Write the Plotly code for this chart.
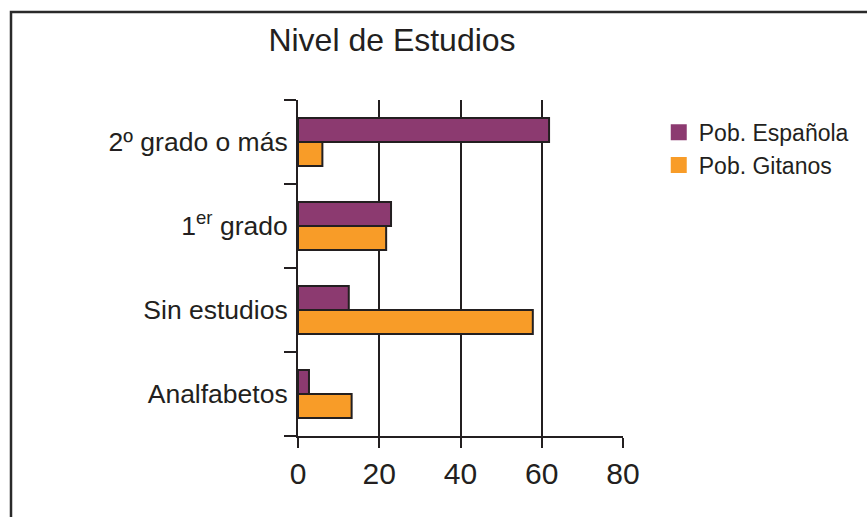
import plotly.graph_objects as go

categories = ["Analfabetos", "Sin estudios", "1er grado", "2º grado o más"]
category_labels = ["Analfabetos", "Sin estudios", "1<sup>er</sup> grado", "2º grado o más"]
pob_espanola = [2.7, 12.5, 22.9, 61.8]
pob_gitanos = [13.2, 57.8, 21.7, 6.0]
x_ticks = [0, 20, 40, 60, 80]

INK = "#231f20"
PURPLE = "#8c3a70"
ORANGE = "#f89c28"
FONT = "Liberation Sans, Arial, sans-serif"

fig = go.Figure()
fig.add_trace(go.Bar(
    name="Pob. Gitanos", y=categories, x=pob_gitanos, orientation="h",
    marker=dict(color=ORANGE, line=dict(color=INK, width=2)), showlegend=False,
))
fig.add_trace(go.Bar(
    name="Pob. Española", y=categories, x=pob_espanola, orientation="h",
    marker=dict(color=PURPLE, line=dict(color=INK, width=2)), showlegend=False,
))
# legend swatches (plain squares, no outline)
fig.add_trace(go.Scatter(name="Pob. Gitanos", x=[None], y=[None], mode="markers",
                         marker=dict(symbol="square", size=18, color=ORANGE, line=dict(width=0))))
fig.add_trace(go.Scatter(name="Pob. Española", x=[None], y=[None], mode="markers",
                         marker=dict(symbol="square", size=18, color=PURPLE, line=dict(width=0))))

fig.update_layout(
    width=867, height=517,
    margin=dict(l=298, r=244, t=100, b=81),
    paper_bgcolor="white", plot_bgcolor="white",
    barmode="group", bargap=0.43, bargroupgap=0,
    font=dict(family=FONT, color=INK),
    title=dict(text="Nivel de Estudios", x=392/867, xanchor="center",
               y=1-40/517, yanchor="middle", yref="container",
               font=dict(size=32, color=INK, family=FONT)),
    legend=dict(x=1.11, y=0.968, xanchor="left", yanchor="top",
                traceorder="reversed", font=dict(size=23, color=INK),
                itemwidth=30, bgcolor="rgba(0,0,0,0)", tracegroupgap=0),
    xaxis=dict(range=[0, 80], tickvals=x_ticks, ticktext=[str(v) for v in x_ticks],
               showgrid=True, gridcolor=INK, gridwidth=2,
               zeroline=False, showline=True, linecolor=INK, linewidth=2,
               ticks="outside", ticklen=10, tickwidth=2, tickcolor=INK,
               tickfont=dict(size=30, color=INK), fixedrange=True),
    yaxis=dict(categoryorder="array", categoryarray=categories,
               tickvals=categories, ticktext=category_labels,
               tickson="boundaries", ticks="outside", ticklen=12, tickwidth=2, tickcolor=INK,
               showline=True, linecolor=INK, linewidth=2, showgrid=False,
               tickfont=dict(size=26.5, color=INK), ticklabelstandoff=3, fixedrange=True),
    shapes=[dict(type="rect", xref="paper", yref="paper",
                 x0=(11-298)/325, x1=(880-298)/325,
                 y0=(436-530)/336, y1=(436-12)/336,
                 line=dict(color="#2a2a2a", width=2.5), layer="below")],
)

fig.write_html("out.html", config={"displayModeBar": False},
               post_script="document.body.style.margin='0';")
